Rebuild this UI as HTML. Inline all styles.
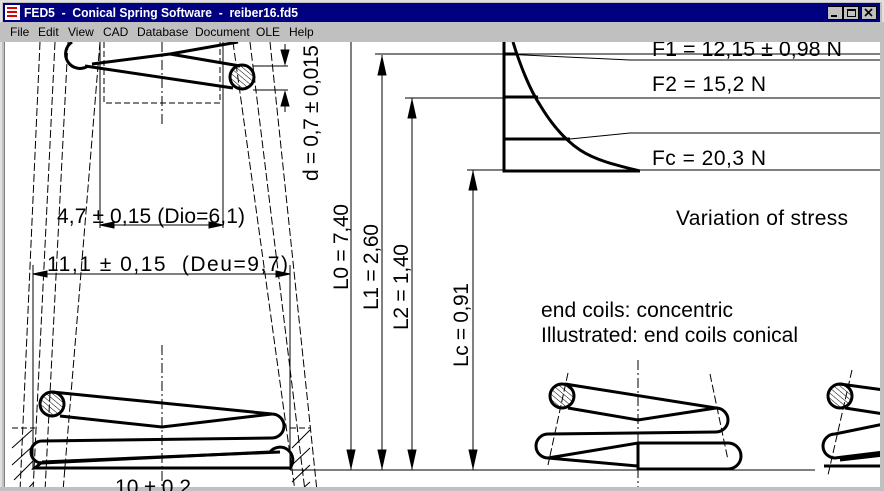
<!DOCTYPE html>
<html><head><meta charset="utf-8"><style>
html,body{margin:0;padding:0;width:884px;height:491px;overflow:hidden;background:#c0c0c0}
svg{display:block}
text{font-family:"Liberation Sans",Arial,sans-serif}
</style></head><body>
<svg width="884" height="491" viewBox="0 0 884 491" xmlns="http://www.w3.org/2000/svg">
<defs>
<pattern id="h" width="4" height="4" patternUnits="userSpaceOnUse" patternTransform="rotate(-50)"><line x1="0" y1="0" x2="0" y2="4" stroke="#000" stroke-width="1"/></pattern>
</defs>
<rect x="0" y="0" width="884" height="491" fill="#c0c0c0"/>
<rect x="1" y="1" width="882" height="489" fill="none" stroke="#fff"/>
<rect x="3" y="3" width="877" height="19" fill="#000080"/>
<rect x="5" y="5" width="15" height="15" fill="#fff"/>
<path d="M7,8h10M7,12h10M7,16h10" stroke="#d00" stroke-width="2"/>
<text x="24" y="17" fill="#fff" font-size="13" font-weight="bold" textLength="274" lengthAdjust="spacingAndGlyphs" xml:space="preserve">FED5  -  Conical Spring Software  -  reiber16.fd5</text>
<g fill="#c0c0c0" stroke="#000" stroke-width="1">
<rect x="827.5" y="6.5" width="15" height="13"/><rect x="843.5" y="6.5" width="15" height="13"/><rect x="861.5" y="6.5" width="15" height="13"/>
</g>
<path d="M831,16h6" stroke="#000" stroke-width="2"/>
<rect x="847.5" y="9.5" width="8" height="7" fill="none" stroke="#000"/><path d="M847,10h9" stroke="#000" stroke-width="2"/>
<path d="M865,9l7,7M872,9l-7,7" stroke="#000" stroke-width="1.6"/>
<rect x="5" y="42" width="875" height="445" fill="#fff"/>
<path d="M4.5,42V487.5H880.5" fill="none" stroke="#808080"/>
<g stroke="#000" fill="none">
<g stroke-width="1" stroke-dasharray="8,3">
<path d="M55,42L33,491M68,42L45,491M100,42L63,491M233,42L295,491M250,42L305,491M270,42L317,491M40,42L20,491"/>
</g>
<g stroke-width="1" stroke-dasharray="10,3,2,3"><path d="M162,42V125M162,345V491M638,360V490"/></g>
<path d="M104,42V103H220V42M223,42V60" stroke-dasharray="6,3"/>
<path d="M100,42V228M223,42V228M33,265V470M290,265V470"/>
<g stroke-width="3">
<path d="M88,66A12,12 0 0 1 72,42"/>
<path d="M85,66L233,88M92,64L170,54L238,42M170,54L240,66"/>
</g>
<circle cx="242" cy="77" r="12" fill="url(#h)" stroke-width="3"/>
<path d="M253,66H288M253,90H288M285,44V64M285,92V112"/>
<path d="M281,50L285,64L289,50ZM281,106L285,92L289,106Z" fill="#000"/>
<path d="M100,225H223" /><path d="M100,225l14,-3v6zM223,225l-14,-3v6z" fill="#000"/>
<path d="M33,274H290"/><path d="M33,274l14,-3v6zM290,274l-14,-3v6z" fill="#000"/>
<g stroke-width="3">
<path d="M52,392L272,414A12,12 0 0 1 272,438L42,441A11,11 0 0 0 42,463L270,452A9,9 0 0 1 290,468H35L42,462"/>
<path d="M60,416L162,427L272,414"/>
<path d="M42,462L280,452"/>
</g>
<circle cx="52" cy="404" r="12" fill="url(#h)" stroke-width="3"/>
<path d="M12,428H35M290,428H310" stroke-dasharray="6,3"/>
<g stroke-width="1"><path d="M12,448L32,430M12,465L34,445M14,480L34,460M26,491L34,482M292,448L310,430M292,465L310,448M292,482L310,465M300,491L310,482"/></g>
<path d="M290,470H815"/>
<path d="M351,42V470M382,55V470M412,98V470M473,170V470"/>
<path d="M375,54H884M405,98H884M467,170H884"/>
<path d="M347,450L351,468L355,450ZM378,450L382,468L386,450ZM408,450L412,468L416,450ZM469,450L473,468L477,450ZM378,75L382,57L386,75ZM408,118L412,100L416,118ZM469,190L473,172L477,190Z" fill="#000"/>
<path d="M504,54L630,60H884M630,133H884M630,133L570,139"/>
<g stroke-width="3"><path d="M504,42V171H640M504,54H516M504,97H538M504,139H570"/>
<path d="M513,42C520,65 530,90 540,105C552,125 565,140 580,150C595,160 615,165 640,171"/></g>
<g stroke-width="3">
<path d="M565,384L716,408A12,12 0 0 1 716,432L548,434A12,12 0 0 0 548,458L638,466"/>
<path d="M568,408L638,420L716,408"/>
<path d="M548,458L638,443H728A13,13 0 0 1 728,469H638V443"/>
</g>
<circle cx="562" cy="396" r="12" fill="url(#h)" stroke-width="3"/>
<path d="M568,373L548,465M710,374L728,460" stroke-dasharray="8,3"/>
<g stroke-width="3"><path d="M840,384L884,390M845,408L884,414M884,424L835,434A12,12 0 0 0 835,458L884,452M824,466H884M840,460L884,455"/></g>
<circle cx="840" cy="396" r="12" fill="url(#h)" stroke-width="3"/>
<path d="M852,370L828,475" stroke-dasharray="8,3"/>
</g>
<rect x="880" y="40" width="4" height="451" fill="#c0c0c0"/>
<rect x="0" y="487" width="884" height="4" fill="#c0c0c0"/>
<rect x="0" y="22" width="884" height="20" fill="#c0c0c0"/>
<text y="36" font-size="12" fill="#000"><tspan x="10">File</tspan><tspan x="38">Edit</tspan><tspan x="68">View</tspan><tspan x="103">CAD</tspan><tspan x="137">Database</tspan><tspan x="195">Document</tspan><tspan x="256">OLE</tspan><tspan x="289">Help</tspan></text>
<g font-size="21" fill="#000" lengthAdjust="spacingAndGlyphs">
<text x="652" y="91" textLength="114">F2 = 15,2 N</text>
<text x="652" y="165" textLength="114">Fc = 20,3 N</text>
<text x="676" y="225" textLength="172">Variation of stress</text>
<text x="541" y="317" textLength="192">end coils: concentric</text>
<text x="541" y="342" textLength="257">Illustrated: end coils conical</text>
<text x="57" y="223" textLength="188">4,7 ± 0,15 (Dio=6,1)</text>
<text x="47" y="271" textLength="241" xml:space="preserve">11,1 ± 0,15  (Deu=9,7)</text>
<text x="115" y="494" textLength="76">10 ± 0.2</text>
<text transform="translate(318,181) rotate(-90)" textLength="136">d = 0,7 ± 0,015</text>
<text transform="translate(348,290) rotate(-90)" textLength="86">L0 = 7,40</text>
<text transform="translate(378,310) rotate(-90)" textLength="86">L1 = 2,60</text>
<text transform="translate(408,330) rotate(-90)" textLength="86">L2 = 1,40</text>
<text transform="translate(468,367) rotate(-90)" textLength="84">Lc = 0,91</text>
</g>
<clipPath id="c"><rect x="0" y="42" width="884" height="20"/></clipPath>
<text x="652" y="56" font-size="21" clip-path="url(#c)" textLength="190" lengthAdjust="spacingAndGlyphs">F1 = 12,15 ± 0,98 N</text>
</svg>
</body></html>
